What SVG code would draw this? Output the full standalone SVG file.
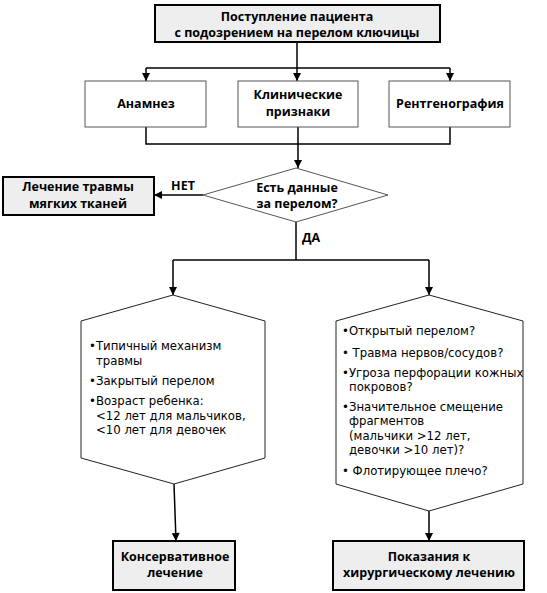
<svg xmlns="http://www.w3.org/2000/svg" width="547" height="593" viewBox="0 0 547 593">
<defs>
<marker id="ah" markerWidth="10" markerHeight="10" refX="9" refY="5" orient="auto" markerUnits="userSpaceOnUse">
<path d="M1,1 L9,5 L1,9 Z" fill="#000"/>
</marker>
<style>
.thick{fill:#eeeeee;stroke:#000;stroke-width:2}
.thin{fill:#fff;stroke:#555;stroke-width:1}
.hex{fill:#fff;stroke:#222;stroke-width:1}
.b{font-family:"Open Sans","Noto Sans","Liberation Sans",sans-serif;font-weight:bold;font-size:12.5px;fill:#000;text-anchor:middle}
.c{font-family:"DejaVu Sans Condensed","Liberation Sans Narrow","Roboto",sans-serif;font-stretch:condensed;font-size:13px;fill:#000}
.ln{fill:none;stroke:#000;stroke-width:1.5}
</style>
</defs>
<rect width="547" height="593" fill="#fff"/>
<g id="connectors">
<path class="ln" d="M297,42 V68"/>
<path class="ln" d="M146,68 H450"/>
<path class="ln" d="M146,68 V81" marker-end="url(#ah)"/>
<path class="ln" d="M297,68 V81" marker-end="url(#ah)"/>
<path class="ln" d="M450,68 V81" marker-end="url(#ah)"/>
<path class="ln" d="M146,127 V144 H450 V127"/>
<path class="ln" d="M298,127 V168" marker-end="url(#ah)"/>
<path class="ln" d="M203,195 H154" marker-end="url(#ah)"/>
<path class="ln" d="M296,222 V260"/>
<path class="ln" d="M173,260 H429"/>
<path class="ln" d="M173,260 V295" marker-end="url(#ah)"/>
<path class="ln" d="M429,260 V295" marker-end="url(#ah)"/>
<path class="ln" d="M174,484 L176,541" marker-end="url(#ah)"/>
<path class="ln" d="M429,511 V541" marker-end="url(#ah)"/>
<text class="b" x="183" y="190">НЕТ</text>
<text class="b" x="311" y="242">ДА</text>
</g>
<g id="n-start">
<rect class="thick" x="155" y="5" width="285" height="37"/>
<text class="b" x="297" y="21">Поступление пациента</text>
<text class="b" x="297" y="37">с подозрением на перелом ключицы</text>
</g>
<g id="n-anamnez">
<rect class="thin" x="85" y="81" width="121" height="46"/>
<text class="b" x="146" y="108">Анамнез</text>
</g>
<g id="n-clinic">
<rect class="thin" x="238" y="81" width="120" height="46"/>
<text class="b" x="298" y="99">Клинические</text>
<text class="b" x="298" y="116">признаки</text>
</g>
<g id="n-xray">
<rect class="thin" x="389" y="81" width="121" height="46"/>
<text class="b" x="450" y="108">Рентгенография</text>
</g>
<g id="n-decision">
<polygon class="thin" points="296,168 388,195 296,222 203,195"/>
<text class="b" x="297" y="192">Есть данные</text>
<text class="b" x="297" y="208">за перелом?</text>
</g>
<g id="n-soft">
<rect class="thick" x="3" y="177" width="151" height="38"/>
<text class="b" x="78" y="191">Лечение травмы</text>
<text class="b" x="78" y="208">мягких тканей</text>
</g>
<g id="n-left-hex">
<polygon class="hex" points="173,295 265,321 265,458 174,484 81,458 81,321"/>
<text class="c" x="89" y="350">•Типичный механизм</text>
<text class="c" x="96" y="365">травмы</text>
<text class="c" x="89" y="385">•Закрытый перелом</text>
<text class="c" x="89" y="405">•Возраст ребенка:</text>
<text class="c" x="96" y="420">&lt;12 лет для мальчиков,</text>
<text class="c" x="96" y="434">&lt;10 лет для девочек</text>
</g>
<g id="n-right-hex">
<polygon class="hex" points="429,295 523,321 523,484 429,511 336,484 336,321"/>
<text class="c" x="342" y="335">•Открытый перелом?</text>
<text class="c" x="342" y="357">• Травма нервов/сосудов?</text>
<text class="c" x="342" y="377">•Угроза перфорации кожных</text>
<text class="c" x="349" y="391">покровов?</text>
<text class="c" x="342" y="411">•Значительное смещение</text>
<text class="c" x="349" y="425">фрагментов</text>
<text class="c" x="349" y="440">(мальчики &gt;12 лет,</text>
<text class="c" x="349" y="454">девочки &gt;10 лет)?</text>
<text class="c" x="342" y="475">• Флотирующее плечо?</text>
</g>
<g id="n-conservative">
<rect class="thick" x="113" y="541" width="122" height="49"/>
<text class="b" x="175" y="561">Консервативное</text>
<text class="b" x="175" y="577">лечение</text>
</g>
<g id="n-surgery">
<rect class="thick" x="333" y="541" width="191" height="49"/>
<text class="b" x="429" y="561">Показания к</text>
<text class="b" x="429" y="577">хирургическому лечению</text>
</g>
</svg>
